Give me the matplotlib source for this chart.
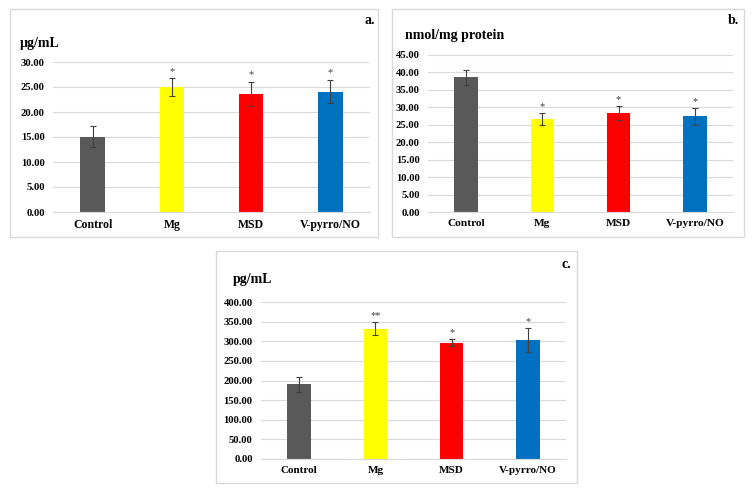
import matplotlib
matplotlib.use("Agg")
import matplotlib.pyplot as plt
from matplotlib.patches import Rectangle
import numpy as np

plt.rcParams['font.family'] = ['Liberation Serif', 'DejaVu Serif']
plt.rcParams['font.weight'] = 'bold'

groups = ["Control", "Mg", "MSD", "V-pyrro/NO"]
colors = ["#595959", "#FFFF00", "#FF0000", "#0070C0"]

# panel a: ug/mL
a_mean = [15.1, 25.0, 23.7, 24.1]
a_sd = [2.1, 1.8, 2.4, 2.4]
a_stars = ["", "*", "*", "*"]

# panel b: nmol/mg protein
b_mean = [38.6, 26.7, 28.4, 27.4]
b_sd = [2.1, 1.7, 1.9, 2.4]
b_stars = ["", "*", "*", "*"]

# panel c: pg/mL
c_mean = [190.7, 332.0, 296.5, 302.5]
c_sd = [19.0, 16.0, 9.5, 30.0]
c_stars = ["", "**", "*", "*"]

W, H = 753, 491
fig = plt.figure(figsize=(W / 100, H / 100), dpi=100)


def px_rect(x0, y0, x1, y1):
    return [x0 / W, 1 - y1 / H, (x1 - x0) / W, (y1 - y0) / H]


def panel(border, area, mean, sd, stars, ymax, step, unit, unit_xy, letter, letter_xy, xfs):
    bx0, by0, bx1, by1 = border
    fig.patches.append(Rectangle((bx0 / W, 1 - by1 / H), (bx1 - bx0) / W, (by1 - by0) / H,
                                 transform=fig.transFigure, fill=False,
                                 edgecolor="#D9D9D9", lw=1.0))
    ax = fig.add_axes(px_rect(*area))
    x = np.arange(len(groups))
    ax.bar(x, mean, width=0.31, color=colors, zorder=2)
    ax.errorbar(x, mean, yerr=sd, fmt="none", ecolor="#404040", elinewidth=0.8,
                capsize=2.5, capthick=0.8, zorder=3)
    for xi, m, s, st in zip(x, mean, sd, stars):
        if st:
            ax.annotate(st, (xi, m + s), xytext=(0, 1.5), textcoords="offset points",
                        ha="center", va="bottom", fontsize=7.5, fontweight="normal",
                        color="#404040")
    ax.set_xlim(-0.5, len(groups) - 0.5)
    ax.set_ylim(0, ymax)
    ax.set_yticks(np.arange(0, ymax + step / 2, step))
    ax.set_yticklabels([f"{v:.2f}" for v in np.arange(0, ymax + step / 2, step)])
    ax.set_xticks(x)
    ax.set_xticklabels(groups, fontsize=xfs)
    ax.tick_params(length=0, labelsize=7.7, pad=6)
    ax.tick_params(axis="x", labelsize=xfs, pad=5)
    ax.yaxis.grid(True, color="#D9D9D9", lw=0.8, zorder=0)
    ax.set_axisbelow(True)
    for s in ["top", "right", "left"]:
        ax.spines[s].set_visible(False)
    ax.spines["bottom"].set_color("#D9D9D9")
    ax.spines["bottom"].set_linewidth(0.8)
    ax.patch.set_alpha(0)
    fig.text(unit_xy[0] / W, 1 - unit_xy[1] / H, unit, fontsize=10, ha="left", va="center")
    fig.text(letter_xy[0] / W, 1 - letter_xy[1] / H, letter, fontsize=10, ha="right", va="center")


panel((10, 9, 378, 237), (53, 62, 370, 212), a_mean, a_sd, a_stars, 30, 5,
      "\u00b5g/mL", (20, 43), "a.", (375, 21), 8.5)
panel((392, 9, 744, 237), (428, 55, 733, 212), b_mean, b_sd, b_stars, 45, 5,
      "nmol/mg protein", (405, 35), "b.", (739, 21), 8.2)
panel((216, 251, 577, 483), (261, 302, 566, 459), c_mean, c_sd, c_stars, 400, 50,
      "pg/mL", (233, 280), "c.", (571, 264), 8.0)

fig.savefig("out.png", dpi=100)
